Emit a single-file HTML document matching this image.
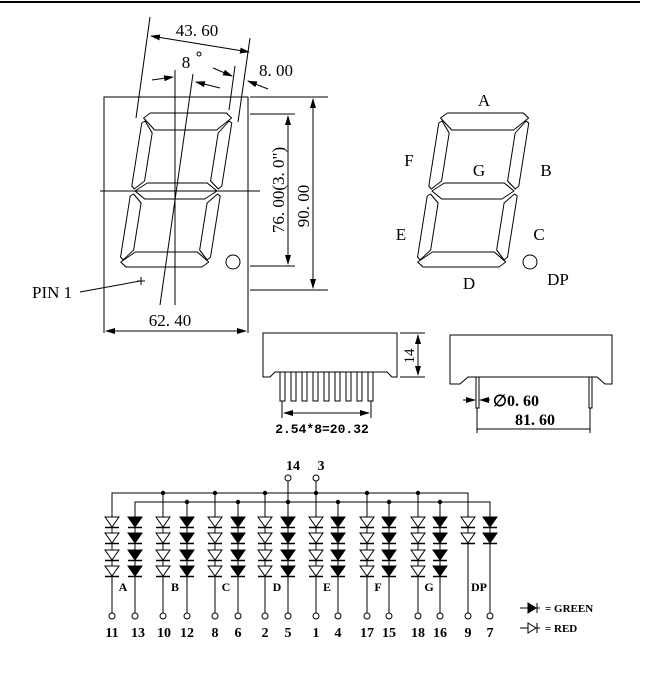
<!DOCTYPE html>
<html><head><meta charset="utf-8"><style>
html,body{margin:0;padding:0;background:#fff;}
svg{display:block;}
text{font-family:"Liberation Serif",serif;fill:#000;}
.m{font-family:"Liberation Mono",monospace;font-weight:bold;}
</style></head><body>
<svg width="654" height="700" viewBox="0 0 654 700" xmlns="http://www.w3.org/2000/svg">
<defs>
<marker id="ar" markerWidth="10" markerHeight="8" refX="9" refY="4" orient="auto" markerUnits="userSpaceOnUse">
<path d="M0,1 L10,4 L0,7 z" fill="#000"/></marker>
<marker id="al" markerWidth="10" markerHeight="8" refX="1" refY="4" orient="auto" markerUnits="userSpaceOnUse">
<path d="M10,1 L0,4 L10,7 z" fill="#000"/></marker>
<g id="digit" fill="none" stroke="#000" stroke-width="1" stroke-linejoin="round">
<g transform="translate(0,191) skewX(-9) translate(0,-191)">
<polygon points="138,113 214,113 220,118 207,130 145,130 132,118"/>
<polygon points="131,123 134,121 143,133 143,181 134,189 131,186"/>
<polygon points="221,123 218,121 209,133 209,181 218,189 221,186"/>
<polygon points="135,191 146,183 206,183 217,191 206,199 146,199"/>
<polygon points="131,196 134,194 143,203 143,250 134,260 131,257"/>
<polygon points="221,196 218,194 209,203 209,250 218,260 221,257"/>
<polygon points="145,252 207,252 220,262 214,267 138,267 132,262"/>
</g>
<circle cx="233" cy="262" r="7"/>
</g>
<g id="dr"><polygon points="-7,0 7,0 0,10" fill="#fff" stroke="#000"/><line x1="-7" y1="10.5" x2="7" y2="10.5" stroke="#000" stroke-width="1.5"/></g>
<g id="dg"><polygon points="-7,0 7,0 0,10" fill="#000" stroke="#000"/><line x1="-7" y1="10.5" x2="7" y2="10.5" stroke="#000" stroke-width="1.5"/></g>
</defs>

<line x1="0" y1="2" x2="640" y2="2" stroke="#000" stroke-width="2"/>

<g stroke="#000" stroke-width="1" fill="none">
<path d="M104,333 V97 H248 V333"/>
<line x1="250" y1="97" x2="328" y2="97"/>
<line x1="250" y1="290" x2="328" y2="290"/>
<line x1="250" y1="114" x2="295" y2="114"/>
<line x1="250" y1="266" x2="295" y2="266"/>
<line x1="288" y1="116" x2="288" y2="264" marker-start="url(#al)" marker-end="url(#ar)"/>
<line x1="313" y1="99" x2="313" y2="288" marker-start="url(#al)" marker-end="url(#ar)"/>
<line x1="100" y1="191" x2="260" y2="191"/>
<line x1="175" y1="70" x2="175" y2="305"/>
<line x1="193" y1="74" x2="160" y2="305"/>
<line x1="150" y1="17" x2="136" y2="118"/>
<line x1="250" y1="38" x2="238" y2="122"/>
<line x1="151" y1="36" x2="249" y2="52" marker-start="url(#al)" marker-end="url(#ar)"/>
<line x1="152" y1="80" x2="173" y2="77" marker-end="url(#ar)"/>
<line x1="220" y1="88" x2="196" y2="82" marker-end="url(#ar)"/>
<line x1="213" y1="68" x2="232" y2="76" marker-end="url(#ar)"/>
<line x1="235" y1="66" x2="229" y2="110"/>
<line x1="268" y1="89" x2="248" y2="81" marker-end="url(#ar)"/>
<line x1="106" y1="331" x2="246" y2="331" marker-start="url(#al)" marker-end="url(#ar)"/>
<line x1="80" y1="292" x2="140" y2="281"/>
<line x1="137" y1="281" x2="145" y2="281"/>
<line x1="141" y1="277" x2="141" y2="285"/>
<circle cx="199" cy="54" r="2"/>
</g>
<use href="#digit"/>
<text x="197" y="36" font-size="17" text-anchor="middle">43. 60</text>
<text x="186" y="68" font-size="17" text-anchor="middle">8</text>
<text x="276" y="76" font-size="17" text-anchor="middle">8. 00</text>
<text x="170" y="326" font-size="17" text-anchor="middle">62. 40</text>
<text x="32" y="298" font-size="17">PIN 1</text>
<text transform="translate(284,190) rotate(-90)" font-size="17" text-anchor="middle">76. 00(3. 0")</text>
<text transform="translate(309,206) rotate(-90)" font-size="17" text-anchor="middle">90. 00</text>

<use href="#digit" transform="translate(297,0)"/>
<g font-size="17" text-anchor="middle">
<text x="484" y="106">A</text><text x="409" y="166">F</text><text x="479" y="176">G</text>
<text x="546" y="176">B</text><text x="401" y="240">E</text><text x="539" y="240">C</text>
<text x="469" y="289">D</text><text x="558" y="285">DP</text></g>

<g stroke="#000" stroke-width="1" fill="none">
<path d="M263,377 V333 H397 V377 H392 L387,372 H275 L270,377 Z"/>
<path d="M280,372 v29 h5 v-29 M291,372 v29 h5 v-29 M302,372 v29 h5 v-29 M313,372 v29 h5 v-29 M324,372 v29 h5 v-29 M335,372 v29 h5 v-29 M346,372 v29 h5 v-29 M357,372 v29 h5 v-29 M368,372 v29 h5 v-29"/>
<line x1="400" y1="333" x2="425" y2="333"/><line x1="400" y1="377" x2="425" y2="377"/>
<line x1="418" y1="335" x2="418" y2="375" marker-start="url(#al)" marker-end="url(#ar)"/>
<line x1="282" y1="401" x2="282" y2="418"/><line x1="371" y1="401" x2="371" y2="418"/>
<line x1="284" y1="413" x2="369" y2="413" marker-start="url(#al)" marker-end="url(#ar)"/>
<path d="M450,384 V335 H612 V384 H605 L597,377 H468 L460,384 Z"/>
<path d="M476,377 v31 h3 v-31 M589,377 v31 h3 v-31"/>
<line x1="463" y1="400" x2="475" y2="400" marker-end="url(#ar)"/>
<line x1="490" y1="400" x2="480" y2="400" marker-end="url(#ar)"/>
<line x1="477" y1="408" x2="477" y2="433"/><line x1="590" y1="408" x2="590" y2="433"/>
<line x1="477" y1="429" x2="590" y2="429"/>
</g>
<text transform="translate(414,356) rotate(-90)" font-size="15" text-anchor="middle">14</text>
<text x="322" y="433" font-size="13" class="m" text-anchor="middle">2.54*8=20.32</text>
<text x="493" y="406" font-size="16" font-weight="bold">∅0. 60</text>
<text x="535" y="425" font-size="16" font-weight="bold" text-anchor="middle">81. 60</text>

<g stroke="#000" stroke-width="1" fill="none">
<path d="M112,517 V493 H468 V517"/>
<path d="M135,517 V502 H490 V517"/>
<line x1="288" y1="481" x2="288" y2="517"/>
<line x1="316" y1="481" x2="316" y2="517"/>
<circle cx="288" cy="478" r="3"/><circle cx="316" cy="478" r="3"/>
<path d="M112,517V613 M163,493V613 M215,493V613 M265,493V613 M316,493V613 M367,493V613 M418,493V613 M468,517V613 M135,517V613 M187,502V613 M238,502V613 M288,502V613 M338,502V613 M389,502V613 M440,502V613 M490,517V613"/>
<g fill="#fff">
<circle cx="112" cy="616" r="3"/><circle cx="135" cy="616" r="3"/><circle cx="163" cy="616" r="3"/><circle cx="187" cy="616" r="3"/>
<circle cx="215" cy="616" r="3"/><circle cx="238" cy="616" r="3"/><circle cx="265" cy="616" r="3"/><circle cx="288" cy="616" r="3"/>
<circle cx="316" cy="616" r="3"/><circle cx="338" cy="616" r="3"/><circle cx="367" cy="616" r="3"/><circle cx="389" cy="616" r="3"/>
<circle cx="418" cy="616" r="3"/><circle cx="440" cy="616" r="3"/><circle cx="468" cy="616" r="3"/><circle cx="490" cy="616" r="3"/>
</g>
</g>
<g fill="#000">
<circle cx="163" cy="493" r="2.2"/><circle cx="215" cy="493" r="2.2"/><circle cx="265" cy="493" r="2.2"/><circle cx="316" cy="493" r="2.2"/>
<circle cx="367" cy="493" r="2.2"/><circle cx="418" cy="493" r="2.2"/>
<circle cx="187" cy="502" r="2.2"/><circle cx="238" cy="502" r="2.2"/><circle cx="288" cy="502" r="2.2"/><circle cx="338" cy="502" r="2.2"/>
<circle cx="389" cy="502" r="2.2"/><circle cx="440" cy="502" r="2.2"/>
</g>
<g>
<use href="#dr" x="112" y="517"/><use href="#dr" x="112" y="533"/><use href="#dr" x="112" y="550"/><use href="#dr" x="112" y="566"/>
<use href="#dg" x="135" y="517"/><use href="#dg" x="135" y="533"/><use href="#dg" x="135" y="550"/><use href="#dg" x="135" y="566"/>
<use href="#dr" x="163" y="517"/><use href="#dr" x="163" y="533"/><use href="#dr" x="163" y="550"/><use href="#dr" x="163" y="566"/>
<use href="#dg" x="187" y="517"/><use href="#dg" x="187" y="533"/><use href="#dg" x="187" y="550"/><use href="#dg" x="187" y="566"/>
<use href="#dr" x="215" y="517"/><use href="#dr" x="215" y="533"/><use href="#dr" x="215" y="550"/><use href="#dr" x="215" y="566"/>
<use href="#dg" x="238" y="517"/><use href="#dg" x="238" y="533"/><use href="#dg" x="238" y="550"/><use href="#dg" x="238" y="566"/>
<use href="#dr" x="265" y="517"/><use href="#dr" x="265" y="533"/><use href="#dr" x="265" y="550"/><use href="#dr" x="265" y="566"/>
<use href="#dg" x="288" y="517"/><use href="#dg" x="288" y="533"/><use href="#dg" x="288" y="550"/><use href="#dg" x="288" y="566"/>
<use href="#dr" x="316" y="517"/><use href="#dr" x="316" y="533"/><use href="#dr" x="316" y="550"/><use href="#dr" x="316" y="566"/>
<use href="#dg" x="338" y="517"/><use href="#dg" x="338" y="533"/><use href="#dg" x="338" y="550"/><use href="#dg" x="338" y="566"/>
<use href="#dr" x="367" y="517"/><use href="#dr" x="367" y="533"/><use href="#dr" x="367" y="550"/><use href="#dr" x="367" y="566"/>
<use href="#dg" x="389" y="517"/><use href="#dg" x="389" y="533"/><use href="#dg" x="389" y="550"/><use href="#dg" x="389" y="566"/>
<use href="#dr" x="418" y="517"/><use href="#dr" x="418" y="533"/><use href="#dr" x="418" y="550"/><use href="#dr" x="418" y="566"/>
<use href="#dg" x="440" y="517"/><use href="#dg" x="440" y="533"/><use href="#dg" x="440" y="550"/><use href="#dg" x="440" y="566"/>
<use href="#dr" x="468" y="517"/><use href="#dr" x="468" y="533"/>
<use href="#dg" x="490" y="517"/><use href="#dg" x="490" y="533"/>
</g>
<g font-size="12" font-weight="bold" text-anchor="middle">
<text x="123" y="591">A</text><text x="175" y="591">B</text><text x="226" y="591">C</text><text x="277" y="591">D</text>
<text x="327" y="591">E</text><text x="378" y="591">F</text><text x="429" y="591">G</text><text x="479" y="591">DP</text>
</g>
<g font-size="14" font-weight="bold" text-anchor="middle">
<text x="293" y="470">14</text><text x="321" y="470">3</text>
<text x="112" y="637">11</text><text x="138" y="637">13</text><text x="164" y="637">10</text><text x="187" y="637">12</text>
<text x="215" y="637">8</text><text x="238" y="637">6</text><text x="265" y="637">2</text><text x="288" y="637">5</text>
<text x="316" y="637">1</text><text x="338" y="637">4</text><text x="367" y="637">17</text><text x="389" y="637">15</text>
<text x="418" y="637">18</text><text x="440" y="637">16</text><text x="468" y="637">9</text><text x="490" y="637">7</text>
</g>
<g stroke="#000" stroke-width="1">
<line x1="520" y1="608" x2="540" y2="608"/>
<polygon points="528,603 528,613 536,608" fill="#000"/><line x1="537" y1="603" x2="537" y2="613"/>
<line x1="520" y1="628" x2="540" y2="628"/>
<polygon points="528,623 528,633 536,628" fill="#fff"/><line x1="537" y1="623" x2="537" y2="633"/>
</g>
<text x="545" y="612" font-size="11" font-weight="bold">= GREEN</text>
<text x="545" y="632" font-size="11" font-weight="bold">=  RED</text>
</svg>
</body></html>
